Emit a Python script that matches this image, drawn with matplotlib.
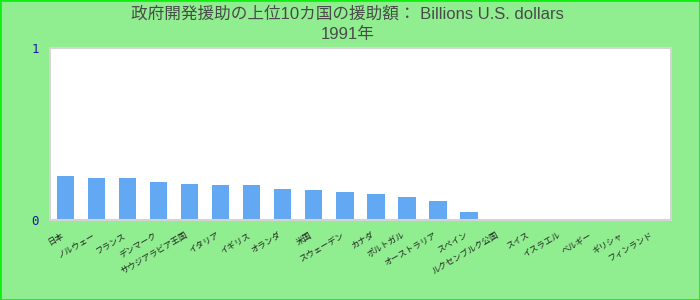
import matplotlib
matplotlib.use("Agg")
import matplotlib.pyplot as plt
from matplotlib.patches import Rectangle

# dati (20 categorie, le ultime 6 senza barra)
paesi = ["日本", "ノルウェー", "フランス", "デンマーク", "サウジアラビア王国",
         "イタリア", "イギリス", "オランダ", "米国", "スウェーデン",
         "カナダ", "ポルトガル", "オーストラリア", "スペイン", "ルクセンブルク公国",
         "スイス", "イスラエル", "ベルギー", "ギリシャ", "フィンランド"]
valori = [0.256, 0.245, 0.245, 0.221, 0.210, 0.204, 0.204, 0.181, 0.175, 0.163,
          0.151, 0.134, 0.111, 0.047, 0, 0, 0, 0, 0, 0]
y_ticks = [0, 1]
titolo = "政府開発援助の上位10カ国の援助額： Billions U.S. dollars\n1991年"

sfondo = "#90ee90"
fig = plt.figure(figsize=(7, 3), dpi=100, facecolor=sfondo)
ax = fig.add_axes([50 / 700, 80 / 300, 620.7 / 700, 171.7 / 300])
ax.set_facecolor("white")

x = list(range(len(paesi)))
ax.bar(x, valori, width=0.56, color="#62a8f3", zorder=2)

ax.set_xlim(-0.5, len(paesi) - 0.5)
ax.set_ylim(0, 1)
ax.set_yticks(y_ticks)
ax.set_yticklabels([str(t) for t in y_ticks], family="DejaVu Sans Mono",
                   fontsize=9, color="#1a1a9c")
ax.tick_params(axis="y", length=0, pad=8)
ax.set_xticks(x)
ax.set_xticklabels(paesi, rotation=30, ha="right", va="top",
                   family=["Noto Sans CJK JP", "DejaVu Sans"], fontsize=6, color="#222222")
ax.tick_params(axis="x", length=0, pad=7.5)

for s in ax.spines.values():
    s.set_color("#d4d4d4")
    s.set_linewidth(1.5)

fig.text(0.497, 1 - 6 / 300, titolo, ha="center", va="top", fontsize=12,
         color="#4a4a4a", linespacing=1.45,
         family=["Liberation Sans", "Noto Sans CJK JP"])

# bordo verde attorno alla figura
fig.patches.append(Rectangle((0, 0), 1, 1, transform=fig.transFigure, fill=False,
                             edgecolor="#11ee11", linewidth=2, zorder=10))

fig.savefig("out.png", dpi=100, facecolor=sfondo)
